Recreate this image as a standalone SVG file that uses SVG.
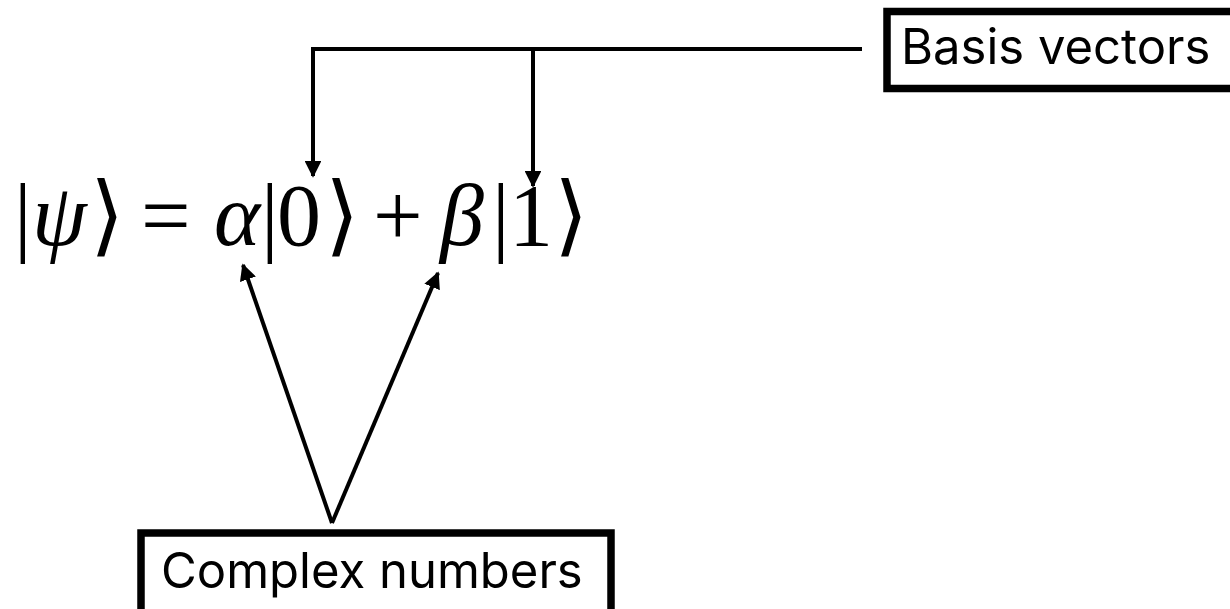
<svg xmlns="http://www.w3.org/2000/svg" width="1230" height="609" viewBox="0 0 1230 609">
<style>
.box{fill:#fff;stroke:#000;stroke-width:7.5}
.lbl{font-family:Inter,"Open Sans",sans-serif;font-size:49px;fill:#000}
.eq{font-family:"Liberation Serif","DejaVu Serif",serif;font-size:88px;fill:#000}
.it{font-style:italic}
.con{fill:none;stroke:#000;stroke-width:4}
</style>
<defs>
<marker id="ah" viewBox="0 0 10 10" refX="9" refY="5" markerWidth="4.2" markerHeight="4.2" markerUnits="strokeWidth" orient="auto">
<path d="M0,0 L10,5 L0,10 z" fill="#000"/>
</marker>
</defs>
<rect width="1230" height="609" fill="#fff"/>
<g id="equation">
<text class="eq" y="245"><tspan x="14">|</tspan><tspan class="it" x="32">ψ</tspan><tspan x="90">⟩</tspan><tspan x="141">=</tspan><tspan class="it" x="214">α</tspan><tspan x="261">|</tspan><tspan x="277">0</tspan><tspan x="325">⟩</tspan><tspan x="373">+</tspan><tspan class="it" x="440">β</tspan><tspan x="492">|</tspan><tspan x="509">1</tspan><tspan x="554">⟩</tspan></text>
</g>
<g id="basis">
<rect class="box" x="887" y="11.5" width="360" height="77"/>
<text class="lbl" x="901" y="64">Basis vectors</text>
</g>
<g id="complex">
<rect class="box" x="141" y="533" width="470" height="100"/>
<text class="lbl" x="161" y="588">Complex numbers</text>
</g>
<g id="connectors">
<path class="con" d="M862,49 H313 V176" marker-end="url(#ah)"/>
<path class="con" d="M533,49 V186" marker-end="url(#ah)"/>
<path class="con" d="M332,523 L243,265" marker-end="url(#ah)"/>
<path class="con" d="M332,523 L438,273" marker-end="url(#ah)"/>
</g>
</svg>
